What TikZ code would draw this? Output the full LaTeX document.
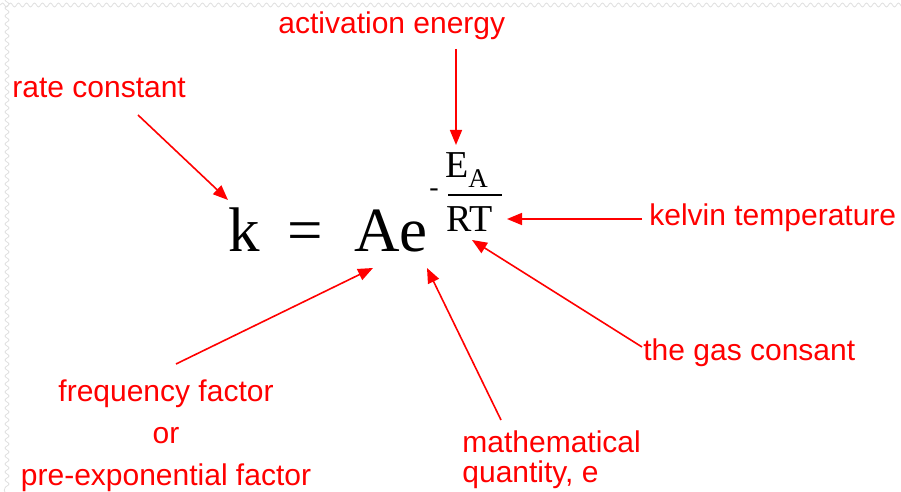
\documentclass[tikz,border=0pt]{standalone}
\usepackage{fontspec}
\setmainfont{Liberation Serif}
\newfontfamily\labelfont{Liberation Sans}
\usetikzlibrary{arrows.meta,decorations.pathmorphing}

\begin{document}
\begin{tikzpicture}[x=0.5pt,y=-0.5pt,
  lbl/.style={text=red, font=\labelfont\fontsize{15}{21}\selectfont, inner sep=0pt},
  eqn/.style={font=\fontsize{31.5}{36}\selectfont, inner sep=0pt},
  expo/.style={font=\fontsize{19}{22}\selectfont, inner sep=0pt},
  pointer/.style={red, line width=0.8pt, -{Triangle[length=7.5pt,width=6pt]}}]
\useasboundingbox (0,0) rectangle (901,492);
\draw[gray!25, decorate, decoration={snake, segment length=4pt, amplitude=1pt}] (0,5) -- (901,5) (5,0) -- (5,492);
% the equation
\node[eqn, anchor=base west] (k) at (228,252) {k};
\node[eqn, anchor=base] (eq) at (305,252) {=};
\node[eqn, anchor=base west] (Ae) at (354,252) {Ae};
\node[expo, anchor=base] (minus) at (434,197) {\fontsize{14}{16}\selectfont -};
\node[expo, anchor=base west] (E) at (445,178) {E};
\node[expo, anchor=base west, font=\fontsize{13.5}{16}\selectfont] (sub) at (468,188) {A};
\node[expo, anchor=base west] (RT) at (446,232) {RT};
\draw[line width=1pt] (448,195) -- (502,195);
% labels
\node[lbl, anchor=base west] (rate) at (12,98) {rate constant};
\node[lbl, anchor=base west] (act) at (278,34) {activation energy};
\node[lbl, anchor=base west] (kelvin) at (649,226) {kelvin temperature};
\node[lbl, anchor=base west] (gas) at (643,360) {the gas consant};
\node[lbl, anchor=base, align=center] (freq) at (166,485) {frequency factor\\or\\pre-exponential factor};
\node[lbl, anchor=base west, align=left, font=\labelfont\fontsize{15}{15}\selectfont] (math) at (462,482) {mathematical\\quantity, e};
% arrow ends
\coordinate (rateTail) at (138,115);  \coordinate (kTip) at (228,200);
\coordinate (actTail) at (456,49);    \coordinate (EaTip) at (456,145);
\coordinate (kelvinTail) at (642,219); \coordinate (TTip) at (507,219);
\coordinate (gasTail) at (642,347);   \coordinate (RTip) at (472,240);
\coordinate (freqTail) at (176,364);  \coordinate (ATip) at (373,268);
\coordinate (mathTail) at (501,420);  \coordinate (eTip) at (427,268);
\draw[pointer] (rateTail) -- (kTip);
\draw[pointer] (actTail) -- (EaTip);
\draw[pointer] (kelvinTail) -- (TTip);
\draw[pointer] (gasTail) -- (RTip);
\draw[pointer] (freqTail) -- (ATip);
\draw[pointer] (mathTail) -- (eTip);
\end{tikzpicture}
\end{document}
